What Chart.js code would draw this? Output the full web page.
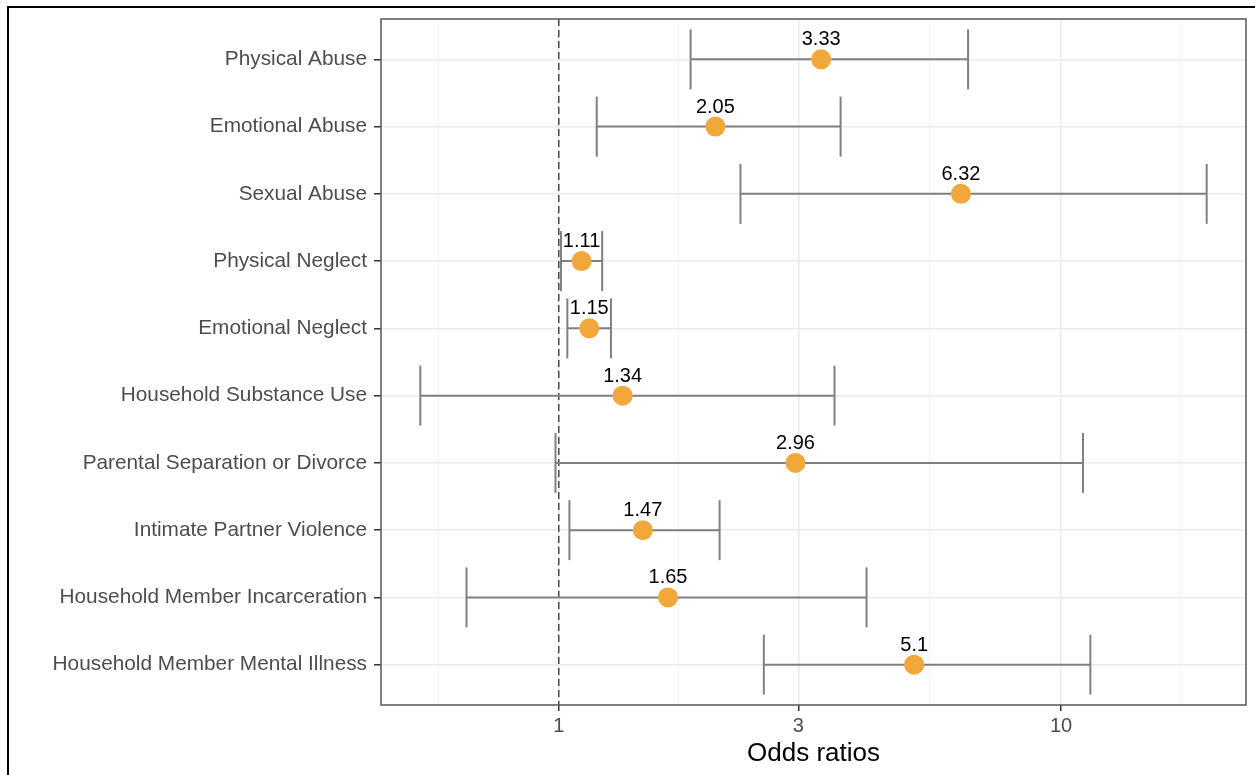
<!DOCTYPE html>
<html>
<head>
<meta charset="utf-8">
<script src="https://cdn.jsdelivr.net/npm/chart.js@4.4.1/dist/chart.umd.min.js"></script>
<style>
  body { margin: 0; background: #fff; }
  #wrap { position: relative; width: 1255px; height: 775px; overflow: hidden; }
  #frame { position: absolute; left: 7px; top: 6px; width: 1300px; height: 800px; border: 2px solid #000; pointer-events: none; }
  canvas { position: absolute; left: 0; top: 0; }
</style>
</head>
<body>
<div id="wrap">
  <canvas id="forest" width="1255" height="775"></canvas>
  <div id="frame"></div>
</div>
<script>
var categories = [
  'Physical Abuse',
  'Emotional Abuse',
  'Sexual Abuse',
  'Physical Neglect',
  'Emotional Neglect',
  'Household Substance Use',
  'Parental Separation or Divorce',
  'Intimate Partner Violence',
  'Household Member Incarceration',
  'Household Member Mental Illness'
];
var oddsRatios = [3.33, 2.05, 6.32, 1.11, 1.15, 1.34, 2.96, 1.47, 1.65, 5.1];
var ciLower = [1.83, 1.19, 2.30, 1.01, 1.04, 0.53, 0.985, 1.05, 0.655, 2.56];
var ciUpper = [6.53, 3.64, 19.5, 1.22, 1.27, 3.54, 11.06, 2.09, 4.10, 11.44];
var majorTicks = [1, 3, 10];
var minorTicks = [0.577, 1.732, 5.477, 17.32];

var FONT = "'Liberation Sans', Arial, sans-serif";
var pointColor = '#F2A73B';
var barColor = '#808080';

// ggplot style 5% expansion on the log range
var lo = Math.log10(Math.min.apply(null, ciLower));
var hi = Math.log10(Math.max.apply(null, ciUpper));
var span = hi - lo;
var xMin = Math.pow(10, lo - 0.05 * span);
var xMax = Math.pow(10, hi + 0.05 * span);

var allTicks = majorTicks.concat(minorTicks).sort(function (a, b) { return a - b; });
function isMajor(v) { return majorTicks.indexOf(v) >= 0; }

var datasets = [{
  type: 'scatter',
  label: 'OR',
  data: oddsRatios.map(function (v, i) { return { x: v, y: i + 1 }; }),
  pointRadius: 10,
  pointHoverRadius: 10,
  backgroundColor: pointColor,
  borderWidth: 0,
  order: 0
}];

categories.forEach(function (c, i) {
  datasets.push({
    type: 'line',
    label: c,
    data: [{ x: ciLower[i], y: i + 1 }, { x: ciUpper[i], y: i + 1 }],
    borderColor: barColor,
    borderWidth: 2,
    pointStyle: 'line',
    pointRotation: 90,
    pointRadius: 30,
    pointHoverRadius: 30,
    pointBorderColor: barColor,
    pointBorderWidth: 2,
    order: 1
  });
});

var forestExtras = {
  id: 'forestExtras',
  beforeDatasetsDraw: function (chart) {
    var ctx = chart.ctx, area = chart.chartArea;
    var x = chart.scales.x.getPixelForValue(1);
    ctx.save();
    ctx.strokeStyle = '#333';
    ctx.lineWidth = 1.3;
    ctx.setLineDash([7, 4]);
    ctx.beginPath();
    ctx.moveTo(x, area.top);
    ctx.lineTo(x, area.bottom);
    ctx.stroke();
    ctx.restore();
  },
  afterDatasetsDraw: function (chart) {
    var ctx = chart.ctx, area = chart.chartArea;
    var meta = chart.getDatasetMeta(0);
    ctx.save();
    ctx.fillStyle = '#000';
    ctx.font = '20px ' + FONT;
    ctx.textAlign = 'center';
    ctx.textBaseline = 'alphabetic';
    meta.data.forEach(function (pt, i) {
      ctx.fillText(String(oddsRatios[i]), pt.x, pt.y - 14);
    });
    ctx.strokeStyle = '#555';
    ctx.lineWidth = 1.5;
    ctx.strokeRect(area.left, area.top, area.right - area.left, area.bottom - area.top);
    ctx.restore();
  }
};

new Chart(document.getElementById('forest').getContext('2d'), {
  type: 'scatter',
  data: { datasets: datasets },
  options: {
    responsive: false,
    animation: false,
    layout: { autoPadding: false, padding: { left: 0, top: 19, right: 9, bottom: 0 } },
    plugins: { legend: { display: false }, tooltip: { enabled: false } },
    scales: {
      x: {
        type: 'logarithmic',
        min: xMin,
        max: xMax,
        afterBuildTicks: function (s) {
          s.ticks = allTicks.map(function (v) { return { value: v }; });
        },
        afterFit: function (s) {
          s.height = 70;
          s.paddingLeft = 0;
          s.paddingRight = 0;
        },
        ticks: {
          autoSkip: false,
          maxRotation: 0,
          padding: 3,
          color: '#4D4D4D',
          font: { family: FONT, size: 20 },
          callback: function (v) { return isMajor(v) ? String(v) : ''; }
        },
        grid: {
          color: function (c) { return c.tick && isMajor(c.tick.value) ? '#EBEBEB' : '#F3F3F3'; },
          lineWidth: function (c) { return c.tick && isMajor(c.tick.value) ? 1.5 : 0.8; },
          tickColor: function (c) { return c.tick && isMajor(c.tick.value) ? '#333' : 'rgba(0,0,0,0)'; },
          tickLength: 6
        },
        border: { display: false },
        title: {
          display: true,
          text: 'Odds ratios',
          color: '#000',
          font: { family: FONT, size: 26 },
          padding: { top: 0, bottom: 6 }
        }
      },
      y: {
        type: 'linear',
        reverse: true,
        min: 0.4,
        max: 10.6,
        afterBuildTicks: function (s) {
          s.ticks = categories.map(function (c, i) { return { value: i + 1 }; });
        },
        afterFit: function (s) {
          s.width = 381;
          s.paddingTop = 0;
          s.paddingBottom = 0;
        },
        ticks: {
          autoSkip: false,
          padding: 7,
          color: '#4D4D4D',
          font: { family: FONT, size: 20.8 },
          callback: function (v) { return categories[v - 1]; }
        },
        grid: { color: '#EBEBEB', lineWidth: 1.5, tickColor: '#333', tickLength: 7 },
        border: { display: false }
      }
    }
  },
  plugins: [forestExtras]
});
</script>
</body>
</html>
